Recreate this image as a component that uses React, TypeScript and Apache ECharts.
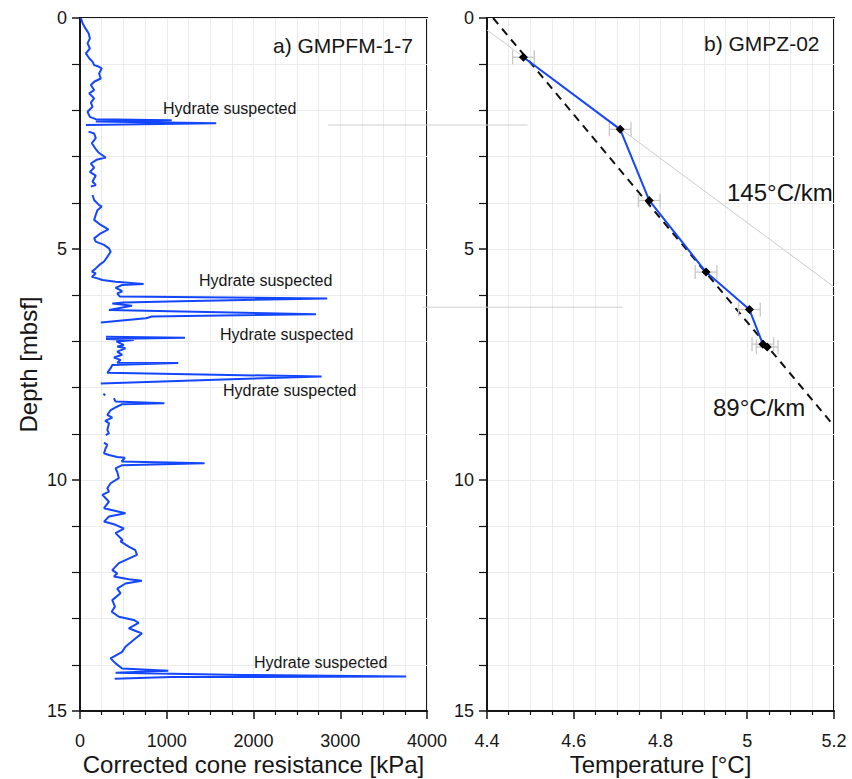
import React, { useEffect, useRef } from "react";
import * as echarts from "echarts";

// ---- Panel a) cone resistance profile (GMPFM-1-7); null = gap in record ----
const cptDepth: (number | null)[] = [
  0.0, 0.115, 0.22, 0.33, 0.44, 0.55, 0.66, 0.765, 0.87, 0.945, 1.02, 1.05, 1.09, 1.2, 1.31, 1.38, 1.45, 1.56, 1.63, 1.74, 1.83, 1.92, 2.03, 2.14, 2.19, 2.215, 2.24, 2.28, 2.316,
  null,
  2.46, 2.5, 2.6, 2.71, 2.82, 2.91, 3.02, 3.07, 3.15, 3.24, 3.33, 3.41, 3.54, 3.615, 3.65,
  null,
  3.83, 3.94, 4.05, 4.08, 4.16, 4.26, 4.37, 4.48, 4.575, 4.66, 4.77, 4.84, 4.91, 4.985, 5.06, 5.17, 5.27, 5.35, 5.42, 5.49, 5.53, 5.6, 5.635, 5.67, 5.71, 5.76, 5.78, 5.84, 5.89, 5.92, 5.96, 6.03, 6.07, 6.13, 6.16, 6.18, 6.23, 6.32, 6.41, 6.46, 6.5, 6.59,
  null,
  6.9, 6.92, 6.95, 6.97, 7.0, 7.08, 7.11, 7.15, 7.22, 7.29, 7.35, 7.4, 7.46, 7.47, 7.51, 7.58, 7.68, 7.76, 7.82, 7.91,
  null,
  8.13, 8.17,
  null,
  8.23, 8.3, 8.34, 8.36, 8.43, 8.49, 8.59, 8.65, 8.72, 8.77, 8.92, 8.99, 9.03,
  null,
  9.19, 9.24, 9.31, 9.42, 9.46, 9.5, 9.52, 9.6, 9.64, 9.68, 9.75, 9.82, 9.96, 10.07, 10.18, 10.25,
  10.32, 10.47, 10.61, 10.72, 10.79, 10.9, 10.97, 11.05, 11.15, 11.3, 11.33, 11.44, 11.52, 11.62, 11.7, 11.8, 11.95, 12.02, 12.09, 12.15, 12.18, 12.24, 12.35, 12.45, 12.6, 12.74, 12.85, 12.96, 13.03, 13.09, 13.21, 13.28, 13.32, 13.43, 13.61, 13.72, 13.86, 13.97, 14.08, 14.13, 14.17, 14.22, 14.255, 14.265, 14.3,
];
const cptResistance: (number | null)[] = [
  10, 30, 61, 99, 114, 87, 114, 68, 106, 144, 163, 213, 251, 220, 239, 163, 125, 163, 106, 163, 125, 144, 87, 114, 182, 1057, 182, 1570, 68,
  null,
  99, 163, 182, 137, 175, 213, 296, 190, 125, 163, 114, 182, 144, 182, 125,
  null,
  144, 163, 220, 251, 201, 182, 163, 239, 327, 239, 163, 182, 277, 334, 353, 315, 277, 220, 182, 137, 182, 137, 201, 258, 410, 733, 486, 410, 467, 486, 429, 460, 2850, 1151, 505, 372, 600, 334, 2720, 830, 760, 240,
  null,
  300, 1210, 300, 620, 420, 505, 429, 524, 429, 486, 391, 467, 429, 1132, 372, 353, 315, 2785, 1740, 240,
  null,
  270, 290,
  null,
  391, 410, 973, 486, 410, 353, 315, 372, 290, 334, 315, 334, 296,
  null,
  277, 315, 296, 277, 334, 429, 517, 480, 1436, 486, 410, 429, 448, 353, 315, 334,
  258, 334, 277, 524, 334, 277, 410, 505, 410, 490, 467, 562, 638, 657, 562, 448, 372, 429, 391, 562, 714, 524, 429, 467, 372, 403, 365, 448, 619, 676, 562, 657, 714, 638, 524, 486, 353, 410, 486, 1018, 410, 1870, 3760, 1050, 400,
];

// grey connector lines between the panels (depth, from/to in kPa units of panel a)
const connectorDepth = [2.316, 6.26];
const connectorFrom = [2862, 3947];
const connectorTo = [5158, 6255];

// ---- Panel b) temperature (GMPZ-02) ----
const tempDepth = [0.85, 2.41, 3.95, 5.5, 6.31, 7.06, 7.12];
const tempValue = [4.484, 4.707, 4.774, 4.905, 5.005, 5.036, 5.046];
const tempError = [0.025, 0.025, 0.025, 0.025, 0.025, 0.025, 0.025];

const gradient89T = [4.414, 5.2];
const gradient89D = [0, 8.83];
const gradient145T = [4.4, 5.2];
const gradient145D = [0.26, 5.82];

const depthTicks = [0, 5, 10, 15];

const FONT = "Liberation Sans, Arial, Helvetica, sans-serif";
const INK = "#161616";
const GRIDC = "#ebebeb";
const BLUE = "#1446ff";

function xAxisBase(gridIndex: number) {
  return {
    type: "value" as const,
    gridIndex,
    position: "bottom" as const,
    axisLine: { show: true, onZero: false, lineStyle: { color: INK, width: 2 } },
    axisTick: { show: true, inside: false, length: 8, lineStyle: { color: INK, width: 1.5 } },
    minorTick: { show: true, splitNumber: 4, length: 4, lineStyle: { color: INK, width: 1.2 } },
    splitLine: { show: true, lineStyle: { color: GRIDC, width: 1 } },
    minorSplitLine: { show: true, lineStyle: { color: GRIDC, width: 1 } },
    axisLabel: { fontSize: 18, color: INK, margin: 21, fontFamily: FONT, showMinLabel: true, showMaxLabel: true, hideOverlap: false },
    nameLocation: "middle" as const,
    nameGap: 41,
    nameMoveOverlap: false,
    nameTextStyle: { fontSize: 24, color: INK, fontFamily: FONT },
  };
}

function yAxisBase(gridIndex: number) {
  return {
    type: "value" as const,
    gridIndex,
    inverse: true,
    min: depthTicks[0],
    max: depthTicks[depthTicks.length - 1],
    interval: depthTicks[1] - depthTicks[0],
    axisLine: { show: true, onZero: false, lineStyle: { color: INK, width: 2 } },
    axisTick: { show: true, inside: false, length: 8, lineStyle: { color: INK, width: 1.5 } },
    minorTick: { show: true, splitNumber: 5, length: 8, lineStyle: { color: INK, width: 1.2 } },
    splitLine: { show: true, lineStyle: { color: GRIDC, width: 1 } },
    minorSplitLine: { show: true, lineStyle: { color: GRIDC, width: 1 } },
    axisLabel: { fontSize: 18, color: INK, margin: 13, fontFamily: FONT },
  };
}

export default function App() {
  const ref = useRef<HTMLDivElement>(null);

  useEffect(() => {
    if (!ref.current) return;
    const chart = echarts.init(ref.current, undefined, { renderer: "svg" });

    const cptData = cptDepth.map((d, i) =>
      d === null || cptResistance[i] === null ? ["-", "-"] : [cptResistance[i], d]
    );
    const tempData = tempDepth.map((d, i) => [tempValue[i], d]);
    const errData = tempDepth.map((d, i) => [tempValue[i], d, tempError[i]]);
    const g89 = gradient89T.map((t, i) => [t, gradient89D[i]]);
    const g145 = gradient145T.map((t, i) => [t, gradient145D[i]]);

    const txt = (text: string, x: number, y: number, size: number) => ({
      type: "text",
      x,
      y,
      z: 100,
      style: { text, fontSize: size, fontFamily: FONT, fill: INK, verticalAlign: "middle", align: "left" },
    });

    const labels = [
      txt("a) GMPFM-1-7", 273, 45, 21),
      txt("b) GMPZ-02", 704, 43, 21),
      txt("Hydrate suspected", 163, 108, 16),
      txt("Hydrate suspected", 199, 280, 16),
      txt("Hydrate suspected", 220, 334, 16),
      txt("Hydrate suspected", 223, 390, 16),
      txt("Hydrate suspected", 254, 662, 16),
      txt("145°C/km", 727, 192, 24),
      txt("89°C/km", 713, 407, 24),
    ];

    const gridBase = {
      top: 18,
      width: 347,
      height: 693,
      show: true,
      borderColor: INK,
      borderWidth: 2,
      backgroundColor: "transparent",
      containLabel: false,
      outerBoundsMode: "none",
    };

    chart.setOption({
      animation: false,
      backgroundColor: "#ffffff",
      grid: [
        { ...gridBase, left: 80 },
        { ...gridBase, left: 487 },
      ],
      xAxis: [
        {
          ...xAxisBase(0),
          min: 0,
          max: 4000,
          interval: 1000,
          name: "Corrected cone resistance [kPa]",
          axisLabel: { ...xAxisBase(0).axisLabel, formatter: (v: number) => String(Math.round(v)) },
        },
        {
          ...xAxisBase(1),
          min: 4.4,
          max: 5.2,
          interval: 0.2,
          name: "Temperature [°C]",
          axisLabel: { ...xAxisBase(1).axisLabel, formatter: (v: number) => String(Math.round(v * 10) / 10) },
        },
      ],
      yAxis: [
        { ...yAxisBase(0), name: "Depth [mbsf]", nameLocation: "middle", nameRotate: 90, nameGap: 40, nameMoveOverlap: false, nameTextStyle: { fontSize: 24, color: INK, fontFamily: FONT } },
        { ...yAxisBase(1) },
      ],
      series: [
        {
          type: "line",
          xAxisIndex: 0,
          yAxisIndex: 0,
          data: cptData,
          symbol: "none",
          showSymbol: false,
          connectNulls: false,
          lineStyle: { color: BLUE, width: 2 },
          z: 5,
        },
        {
          type: "line",
          xAxisIndex: 1,
          yAxisIndex: 1,
          data: g145,
          symbol: "none",
          lineStyle: { color: "#cccccc", width: 1 },
          z: 2,
        },
        {
          type: "line",
          xAxisIndex: 1,
          yAxisIndex: 1,
          data: g89,
          symbol: "none",
          lineStyle: { color: "#111111", width: 2, type: [8, 6] },
          z: 3,
        },
        {
          type: "custom",
          xAxisIndex: 1,
          yAxisIndex: 1,
          data: errData,
          encode: { x: 0, y: 1 },
          z: 4,
          renderItem: (params: any, api: any) => {
            const t = api.value(0);
            const d = api.value(1);
            const e = api.value(2);
            const a = api.coord([t - e, d]);
            const b = api.coord([t + e, d]);
            const st = { stroke: "#c8c8c8", lineWidth: 1.3 };
            return {
              type: "group",
              children: [
                { type: "line", shape: { x1: a[0], y1: a[1], x2: b[0], y2: b[1] }, style: st },
                { type: "line", shape: { x1: a[0], y1: a[1] - 7, x2: a[0], y2: a[1] + 7 }, style: st },
                { type: "line", shape: { x1: b[0], y1: b[1] - 7, x2: b[0], y2: b[1] + 7 }, style: st },
              ],
            };
          },
        },
        {
          type: "line",
          xAxisIndex: 1,
          yAxisIndex: 1,
          data: tempData,
          symbol: "diamond",
          symbolSize: 9,
          showSymbol: true,
          itemStyle: { color: "#000000" },
          lineStyle: { color: BLUE, width: 2 },
          z: 6,
        },
      ],
      graphic: labels,
    });

    // connector lines placed through panel a's own scales
    const connectors = connectorDepth.map((d, i) => {
      const p1 = chart.convertToPixel({ gridIndex: 0 }, [connectorFrom[i], d]) as number[];
      const p2 = chart.convertToPixel({ gridIndex: 0 }, [connectorTo[i], d]) as number[];
      return {
        type: "line",
        z: 1,
        silent: true,
        shape: { x1: p1[0], y1: p1[1], x2: p2[0], y2: p2[1] },
        style: { stroke: "#cfcfcf", lineWidth: 1 },
      };
    });
    chart.setOption({ graphic: [...labels, ...connectors] });

    return () => chart.dispose();
  }, []);

  return (
    <div
      ref={ref}
      style={{ position: "fixed", left: 0, top: 0, width: 852, height: 779, background: "#fff" }}
    />
  );
}
